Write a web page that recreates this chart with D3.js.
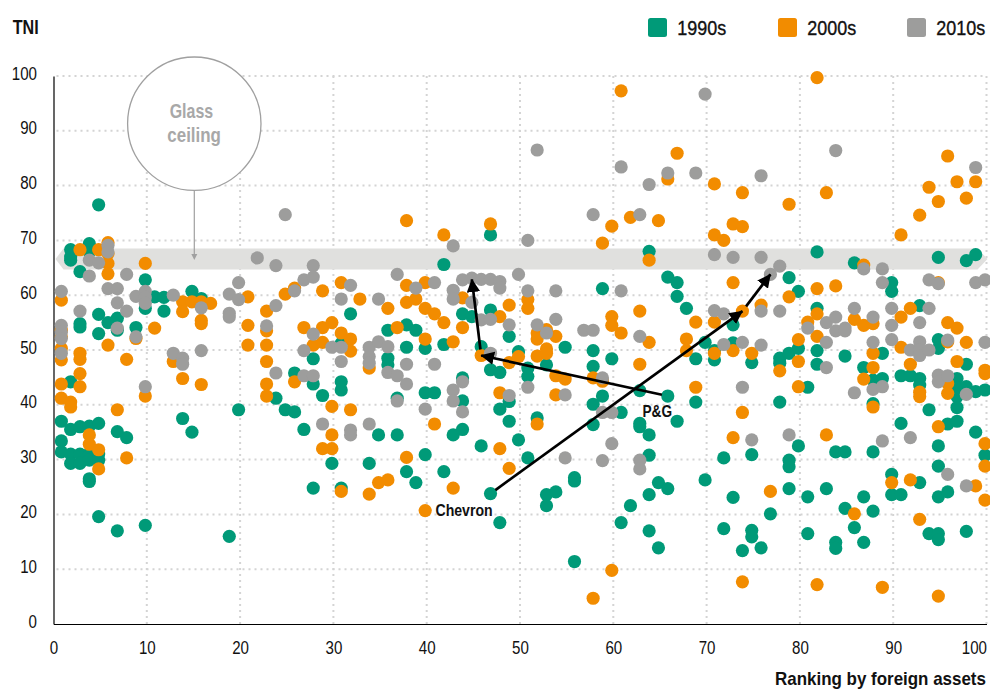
<!DOCTYPE html>
<html><head><meta charset="utf-8">
<script src="https://cdn.jsdelivr.net/npm/d3@7/dist/d3.min.js"></script>
<style>
html,body{margin:0;padding:0;background:#fff}
svg{display:block}
text{font-family:"Liberation Sans",Arial,sans-serif;fill:#111}
</style></head><body><svg id="c" width="990" height="689"></svg>
<script>
// each entry: [ranking by foreign assets, [TNI values]]
const tni1990=[[1,[37,33.4,31.4]],[2,[68.3,67,66.4,44.2,35.5,31,29.3]],[3,[64.3,54.8,54.2,36,31,29.3]],[4,[69.4,67.9,36.1,31.1,29.9,26.5,26]],[5,[76.5,56.5,53,36.6,31,29.9,19.6]],[6,[55]],[7,[55.8,53.6,35.1,17]],[8,[34]],[9,[54.1]],[10,[62.8,60,57.6,18]],[11,[59.7]],[12,[59.6,57.1]],[14,[37.5]],[15,[60.7,35]],[16,[59.4]],[19,[16]],[20,[39.1]],[24,[41.2]],[25,[39.1]],[26,[45.8,38.7]],[27,[35.5]],[28,[48.4,43.8,24.8]],[29,[41.7]],[30,[29.3]],[31,[51.2,44.2,42.7,24.8]],[32,[56.6]],[34,[29.3]],[35,[34.5]],[36,[53.6,48.5,47.3]],[37,[41.2,34.5]],[38,[54.6,50.5,27.8]],[39,[53.6,25.8]],[40,[50.3,42.2,30.9]],[41,[42.2]],[42,[65.6,51,27.8]],[43,[34.5]],[44,[56.6,44.9,40.7,35.5]],[45,[56.1]],[46,[50.6,32.5]],[47,[71,57.3,46.4,23.8]],[48,[45.9,39.2,18.5]],[49,[52.5,40.6,37]],[50,[49.7,33.6]],[51,[46.7,45.2,30.3]],[52,[37.6]],[53,[47.3,23.6,21.6]],[54,[24.1]],[55,[50.5]],[56,[26.7,26.1,11.4]],[58,[49.9,47,40.1,36.4]],[59,[61.2,41.6]],[60,[48.4]],[61,[38.6,18.5]],[62,[21.6]],[63,[42.6,36.6,36]],[64,[68,34.5,30.8,23.6,17]],[65,[25.8,13.9]],[66,[63.3,41.6,24.7]],[67,[62.3,59.8,37]],[68,[57.6]],[69,[48.4,40.5]],[70,[51.4,26.3]],[71,[49.9,48.2]],[72,[30.3,17.4]],[73,[54.6,51.3,23.1]],[74,[13.4]],[75,[47.7,30.9,17.1,15.9]],[76,[13.9]],[77,[20.1]],[78,[48.5,47.6,40.5]],[79,[63.2,49.4,29.9,28.7,24.7]],[80,[60.7,50.3,32.5]],[81,[43.2,23.2,16.5]],[82,[67.9,57.6,49.9,47.4]],[83,[24.7]],[84,[31.4,14.9,13.8]],[85,[48.9,31.4,21.1]],[86,[65.9,17.6]],[87,[46.8,23.2,14.9]],[88,[44.5,40.2,31.4,20.6]],[89,[49.4,44.8]],[90,[62.3,60.7,27.3,23.6]],[91,[45.3,36.6,23.6]],[92,[45.3]],[93,[58.1,44.8,43.6,25.8]],[94,[39.1,16.5]],[95,[66.9,51.9,50.3,32.5,28.8,23.2,16.5,15.4]],[96,[36.5,24.1]],[97,[44.8,43,41.5,39.5,37]],[98,[66.3,47.4,43.3,16.9]],[99,[67.4,42.4,35]],[100,[42.7,30.8]]];
const tni2000=[[1,[59.1,53.6,52.4,50.3,48.2,43.8,41.2]],[2,[40.5,39.6]],[3,[68.3,49.4,48.3,45.7,43.3]],[4,[34.5,32.8]],[5,[68.3,31.8,28.3]],[6,[69.6,67.6,65.8,63.9,50.9]],[7,[39.1]],[8,[48.3,30.3]],[9,[52.1]],[10,[65.8,41.6]],[11,[54]],[13,[47.9]],[14,[58.8,57,44.8]],[15,[58.8]],[16,[58.8,55.4,54.8,43.7]],[17,[58.5]],[21,[59.7,54.5,50.9]],[23,[57.1,53.5,50.9,47.9,43.8,41.6]],[25,[60.2]],[26,[61.3,44.2]],[27,[54.1]],[28,[50.9]],[29,[60.8,54.1,51.4,32]],[30,[55,39.7,34.5,32]],[31,[62.3,53.1,24.2]],[32,[52,49.8,39.1]],[33,[59.3]],[34,[46.7,23.7]],[35,[25.8]],[36,[57.6,26.3]],[37,[54.1]],[38,[73.6,61.8,58.7,30.4]],[39,[59.3]],[40,[62.3,57.6,52,20.7]],[41,[56.6,36.5]],[42,[71,55]],[43,[51.5,24.8]],[44,[59.5,54.1]],[46,[49]],[47,[73]],[48,[56.1,42.2,32]],[49,[58.2,47.7,28.4]],[50,[48.8]],[51,[59.2,57.6]],[52,[53.1,52,48.9,36.5]],[53,[53.7,50.2,49.4]],[54,[52.5,45.3,41.8]],[55,[44.7]],[58,[44.9,4.7]],[59,[69.5,44.3]],[60,[72.6,56.1,54.5,9.8]],[61,[97.3,53.1]],[62,[74.2]],[63,[57.1,47.4]],[64,[66.4,51.4]],[65,[73.6]],[66,[81.2]],[67,[85.9]],[68,[52,49.9]],[69,[55.1,43.2]],[71,[80.3,71,55.1,49.4]],[72,[70]],[73,[73,62.3,49.9,34]],[74,[78.7,72.5,57.1,38.6,7.7]],[75,[49.4]],[76,[58.2]],[77,[24.2]],[78,[46.2]],[79,[76.6,59.7]],[80,[51.9,47.9,43.3]],[81,[55.1]],[82,[99.7,61.2,56.6,52.5,7.2]],[83,[78.7,34.5]],[84,[61.7]],[86,[55.6,20.1]],[87,[65.5,54.5,44.7]],[88,[54.8,49.4,46.8,39.6]],[89,[6.7]],[90,[25.8]],[91,[71,56,50.5]],[92,[57.6,47.4,26.3]],[93,[74.6,42.3,41.5,19.1]],[94,[79.7]],[95,[77.1,62.3,36,5.1]],[96,[85.4,55,51.5,43.9,42.1]],[97,[80.7,54,47.9]],[98,[77.7,51.4]],[99,[80.7,25.2]],[100,[46.3,45.7,32.9,28.8,22.6]]];
const tni2010=[[1,[60.7,54.5,53.3,52.1,49.4]],[3,[57.1]],[4,[66.4,63.5]],[5,[65.9]],[6,[69.1,67.9,61.2]],[7,[61.2,58.6,54]],[8,[63.8,57.1]],[9,[59.8,52.4]],[10,[60.7,59.6,58.5,43.3]],[13,[60,49.4]],[14,[48.5,47.4]],[16,[57.7,49.9]],[19,[60.2,56.7,56]],[20,[62.3,59.2]],[22,[66.8]],[23,[54.4]],[24,[65.4,58.1,45.8]],[25,[74.7]],[26,[60.8]],[27,[62.8,49.9,45.3]],[28,[65.4,63.3,52.9,45.3]],[29,[36.5]],[30,[50.5]],[31,[59.3,50.5,47.9]],[32,[61.8,35.4,34.5]],[34,[50.5,48.8,47.6,36.5]],[35,[59.3,51.5]],[36,[50.6,45.9]],[37,[63.8,45.3,40.7]],[38,[47.4,43.8]],[39,[61.3]],[40,[39.2]],[41,[62.3,47.4]],[43,[69,60.9,59.3,42.7,40.7]],[44,[62.8,44.2,38.7]],[45,[63.1,58.7]],[46,[62.9,55.5]],[47,[62.9,55.6,49.4]],[48,[62.5,61.3]],[49,[54.6,41.7]],[50,[63.8]],[51,[70,60.8,43.2]],[52,[86.5,54.6]],[53,[53.1]],[54,[60.8,55.6]],[55,[41.8,30.3]],[57,[53.6]],[58,[74.7,53.6]],[59,[44.9,38.6,29.8]],[60,[38.6,32.9]],[61,[83.4,60.8]],[63,[74.7,52.5,29.9,28.3]],[64,[80.2]],[66,[82.3]],[69,[82.3]],[70,[96.7]],[71,[67.4,57.2]],[72,[56.6,51]],[73,[66.9]],[74,[51.4,43.2]],[75,[33.6]],[76,[81.8,66.9,57.1,50.9]],[77,[63.8]],[78,[65.3,57.1]],[79,[34.5]],[81,[54]],[83,[55,51.4,46.8]],[84,[86.4,56,53.5]],[85,[54,53.5]],[86,[57.6,42.2]],[87,[64.8]],[88,[56,51.4,42.8]],[89,[64.8,62.3,43.3,33.4]],[90,[57.6,54.5,51.9]],[92,[50,34]],[93,[55,51.5,50,49]],[94,[62.8,57.6,50]],[95,[62.1,45.4,44.2]],[96,[51.8,45.3,27.3]],[98,[41.9,25.2]],[99,[83.3,62.3]],[100,[62.8,51.4]]];
const seriesNames=["1990s","2000s","2010s"];
const seriesColors=["#009a78","#f28c00","#9d9d9c"];
const xTicks=[0,10,20,30,40,50,60,70,80,90,100];
const yTicks=[0,10,20,30,40,50,60,70,80,90,100];
const ceilingBand=[64.7,68.5];
const pathPG=[[66,41.6],[46,49],[45,62.9]];
const pathChevron=[[47,23.8],[74,57.1],[77,63.8]];

const svg=d3.select("#c");
const x=d3.scaleLinear().domain([0,100]).range([53.5,986.5]);
const y=d3.scaleLinear().domain([0,100]).range([624,76]);
const dotShift=-1.5;
// condensed look: squeeze each text horizontally to a given width
const fit=(sel,w)=>{
 const n=sel.node(),s=w/n.getComputedTextLength(),px0=+sel.attr("x")||0,py0=+sel.attr("y")||0;
 return sel.attr("x",0).attr("y",0).attr("transform",`translate(${px0},${py0}) scale(${s},1)`);
};

// grid
const grid=svg.append("g").attr("stroke","#d4d4d4").attr("stroke-width",2).attr("stroke-dasharray","2 4");
grid.selectAll(".gx").data(xTicks.slice(1)).join("line").attr("x1",d=>x(d)).attr("x2",d=>x(d)).attr("y1",y(100)).attr("y2",y(0));
grid.selectAll(".gy").data(yTicks.slice(1)).join("line").attr("x1",x(0)+3).attr("x2",x(100)).attr("y1",d=>y(d)).attr("y2",d=>y(d));

// glass ceiling band
const bt=y(ceilingBand[1]),bb=y(ceilingBand[0]),bm=(bt+bb)/2;
svg.append("path").attr("fill","#e0e0de")
 .attr("d",`M${x(0)+2},${bm}L${x(0)+10},${bt}L${x(100)-9},${bt}L${x(100)+1},${bm}L${x(100)-9},${bb}L${x(0)+10},${bb}Z`);

// axes
const yAxis=d3.axisLeft(y).tickValues(yTicks).tickSize(0);
const xAxis=d3.axisBottom(x).tickValues(xTicks).tickSize(0);
const gy=svg.append("g").attr("transform",`translate(${x(0)},0)`).call(yAxis);
const gx=svg.append("g").attr("transform",`translate(0,${y(0)})`).call(xAxis);
[gx,gy].forEach(g=>{g.select(".domain").attr("stroke","#000").attr("stroke-width",1.2);
 g.selectAll("text").attr("font-size",18).attr("fill","#111").attr("dy",0);});
gy.selectAll("text").attr("x",-16.5).attr("y",3);
gx.selectAll("text").attr("y",30.3);
gx.selectAll(".tick text").filter(d=>d===100).attr("text-anchor","end");
[gx,gy].forEach(g=>g.selectAll(".tick text").each(function(d){fit(d3.select(this),String(d).length*8.4);}));

// dots
const flat=s=>s.flatMap(([r,vs])=>vs.map(v=>[r,v]));
const dots=svg.append("g").attr("transform",`translate(${dotShift},0)`);
[tni1990,tni2000,tni2010].forEach((s,i)=>{
 dots.append("g").attr("fill",seriesColors[i]).selectAll("circle").data(flat(s)).join("circle")
  .attr("cx",d=>x(d[0])).attr("cy",d=>y(d[1])).attr("r",6.6);
});

// arrows
const defs=svg.append("defs");
defs.append("marker").attr("id","ah").attr("viewBox","0 0 10 10").attr("refX",9.5).attr("refY",5)
 .attr("markerWidth",5).attr("markerHeight",5).attr("orient","auto").attr("markerUnits","strokeWidth")
 .append("path").attr("d","M0,0L10,5L0,10Z").attr("fill","#000");
const px=p=>[x(p[0])+dotShift,y(p[1])];
function arrow(a,b,startTrim){
 const A=px(a),B=px(b),L=Math.hypot(B[0]-A[0],B[1]-A[1]),u=[(B[0]-A[0])/L,(B[1]-A[1])/L];
 svg.append("line").attr("x1",A[0]+u[0]*startTrim).attr("y1",A[1]+u[1]*startTrim).attr("x2",B[0]).attr("y2",B[1])
  .attr("stroke","#000").attr("stroke-width",2.7).attr("marker-end","url(#ah)");
}
[pathPG,pathChevron].forEach(p=>{arrow(p[0],p[1],6);arrow(p[1],p[2],6);});

// labels
const label=(t,lx,ly,fs,w,fw,col)=>fit(svg.append("text").attr("x",lx).attr("y",ly).attr("font-size",fs).attr("font-weight",fw||700).style("fill",col||"#111").text(t),w);
label("P&G",642.5,416.5,16.5,29.6);
label("Chevron",435.5,516,16.5,57.2);

// glass ceiling callout
const cx=194.3,cy=123.7,cr=66.7;
svg.append("line").attr("x1",cx).attr("x2",cx).attr("y1",cy+cr).attr("y2",255).attr("stroke","#a0a0a0").attr("stroke-width",1.2);
svg.append("path").attr("d",`M${cx-3},254L${cx+3},254L${cx},260Z`).attr("fill","#a0a0a0");
svg.append("circle").attr("cx",cx).attr("cy",cy).attr("r",cr).attr("fill","#fff").attr("stroke","#a0a0a0").attr("stroke-width",1.3);
label("Glass",169.7,118,20,43.5,700,"#a8a8a8");
label("ceiling",167.3,142,20,53.7,700,"#a8a8a8");

// titles
label("TNI",12.7,34.3,20,26);
label("Ranking by foreign assets",775,685,19,211);

// legend
const lx=[648,778,907];
seriesNames.forEach((n,i)=>{
 svg.append("rect").attr("x",lx[i]).attr("y",18).attr("width",19).attr("height",19).attr("rx",2.5).attr("fill",seriesColors[i]);
 fit(svg.append("text").attr("x",lx[i]+29.3).attr("y",35).attr("font-size",20).style("stroke","#111").style("stroke-width",0.35).text(n),49);
});
</script></body></html>
